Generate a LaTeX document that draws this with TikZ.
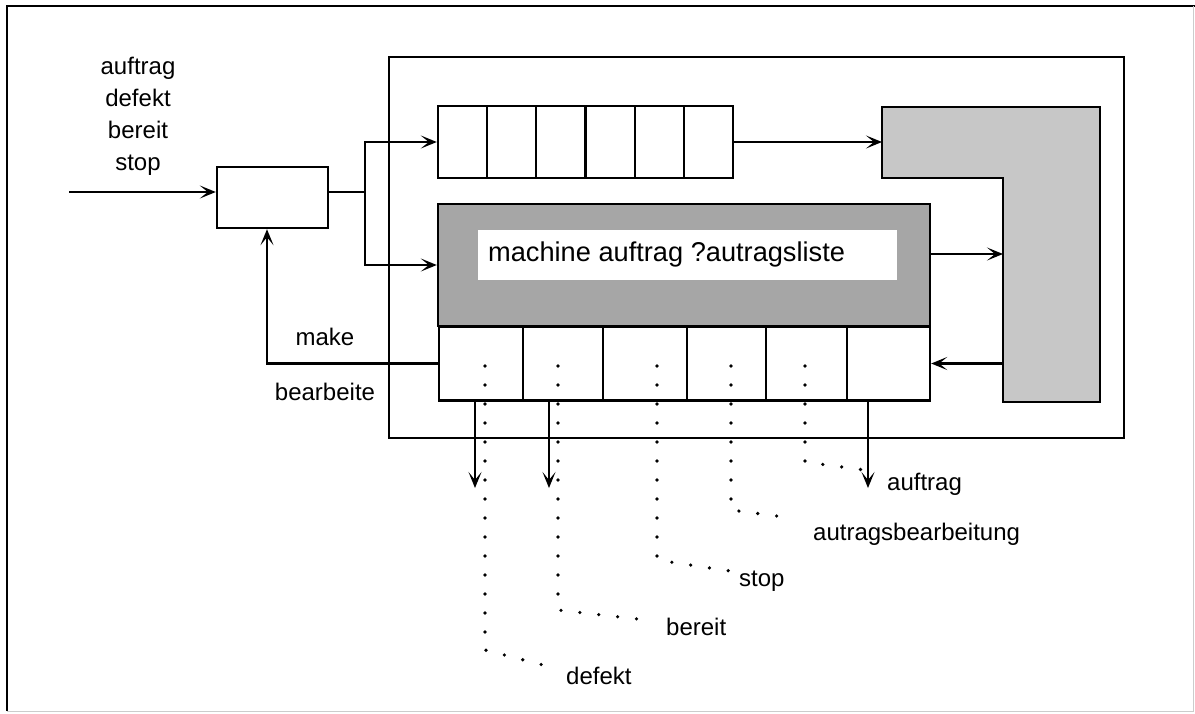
\documentclass[tikz,border=0pt]{standalone}
\usepackage{fontspec}
\setmainfont{Liberation Sans}
\usetikzlibrary{arrows.meta}
\begin{document}
\begin{tikzpicture}[x=1pt,y=-1pt,
  box/.style={draw, line width=2.4pt, inner sep=0pt, rectangle},
  divider/.style={line width=2.2pt},
  arr/.style={-{Stealth[length=16pt,width=13pt,inset=8pt]}, line width=2.2pt},
  lbl/.style={font=\fontsize{24}{28}\selectfont, inner sep=0pt},
  dots/.style={line width=3.6pt, line cap=round, dash pattern=on 0pt off 19pt}]
\useasboundingbox (0,0) rectangle (1195,713);
% outer frame
\draw[line width=2.6pt] (1195,6) -- (7,6) -- (7,711);
\draw[black!20, line width=1pt] (7,711) -- (1193,711) -- (1193,6);
% inner frame
\node[box, minimum width=735, minimum height=381] (frame) at (756.5,247.5) {};
% queue
\node[box, minimum width=295, minimum height=72] (queue) at (585.5,142) {};
\foreach \x in {487.2,536.3,585.5,634.7,683.8} \draw[divider] (\x,106) -- (\x,178);
% machine
\node[box, fill=black!35, minimum width=492, minimum height=122] (machine) at (684,265) {};
\node[fill=white, minimum width=419, minimum height=50, inner sep=0pt] (mtextbg) at (687.5,255) {};
\node[anchor=base west, font=\fontsize{27.2}{31}\selectfont, inner sep=0pt] (mtext) at (488,261) {machine auftrag ?autragsliste};
% cells
\node[box, minimum width=491, minimum height=74] (cells) at (684.5,363.5) {};
\foreach \x in {523,603,687,766,847} \draw[divider] (\x,326.5) -- (\x,400.5);
% L shape
\draw[line width=2.4pt, fill=black!22] (882,107) coordinate (Ltl) -- (1100,107) -- (1100,402) -- (1003,402) coordinate (Lbl) -- (1003,178) -- (882,178) -- cycle;
% input box
\node[box, minimum width=111, minimum height=61] (in) at (272.5,197.5) {};
\coordinate (src) at (69,192);
\draw[arr] (src) -- (src -| in.west);
\coordinate (br) at (365,192);
\draw[line width=2.4pt] (br -| in.east) -- (br);
\draw[arr] (br) |- (queue.west);
\draw[arr] (br) |- (machine.west);
% right arrows
\draw[arr] (queue.east) -- (queue.east -| Ltl);
\draw[arr] ([yshift=11pt]machine.east) -- ([yshift=11pt]machine.east -| Lbl);
\draw[arr] (cells.east -| Lbl) -- (cells.east);
% make
\coordinate (mk) at (267,363.5);
\draw[arr] (cells.west) -- (mk) -- (mk |- in.south);
% outputs
\coordinate (o1) at (475,488);
\coordinate (o2) at (549,488);
\coordinate (o3) at (868,488);
\foreach \o in {o1,o2,o3} \draw[arr, line width=1.9pt] (\o |- cells.south) -- (\o);
% labels
\node[lbl, anchor=base] (la) at (138,74) {auftrag};
\node[lbl, anchor=base] (lb) at (138,106) {defekt};
\node[lbl, anchor=base] (lc) at (138,138) {bereit};
\node[lbl, anchor=base] (ld) at (138,170) {stop};
\node[lbl, anchor=base] (lmake) at (325,345) {make};
\node[lbl, anchor=base] (lbear) at (325,400) {bearbeite};
% dotted leaders
\coordinate (d1a) at (485,366); \coordinate (d1b) at (485,650); \coordinate (d1c) at (551,667);
\coordinate (d2a) at (558,366); \coordinate (d2b) at (558,610); \coordinate (d2c) at (655,621);
\coordinate (d3a) at (657,366); \coordinate (d3b) at (657,560); \coordinate (d3c) at (730,571);
\coordinate (d4a) at (731,366); \coordinate (d4b) at (731,510); \coordinate (d4c) at (792,518);
\coordinate (d5a) at (805,366); \coordinate (d5b) at (805,462); \coordinate (d5c) at (879,472);
\draw[dots] (d1a) -- (d1b) -- (d1c);
\draw[dots] (d2a) -- (d2b) -- (d2c);
\draw[dots] (d3a) -- (d3b) -- (d3c);
\draw[dots] (d4a) -- (d4b) -- (d4c);
\draw[dots] (d5a) -- (d5b) -- (d5c);
\node[lbl, anchor=base west] (tdef) at (566,684) {defekt};
\node[lbl, anchor=base west] (tber) at (666,635) {bereit};
\node[lbl, anchor=base west] (tstop) at (739,586) {stop};
\node[lbl, anchor=base west] (tab) at (813,540) {autragsbearbeitung};
\node[lbl, anchor=base west] (tauf) at (887,490) {auftrag};
\end{tikzpicture}
\end{document}
